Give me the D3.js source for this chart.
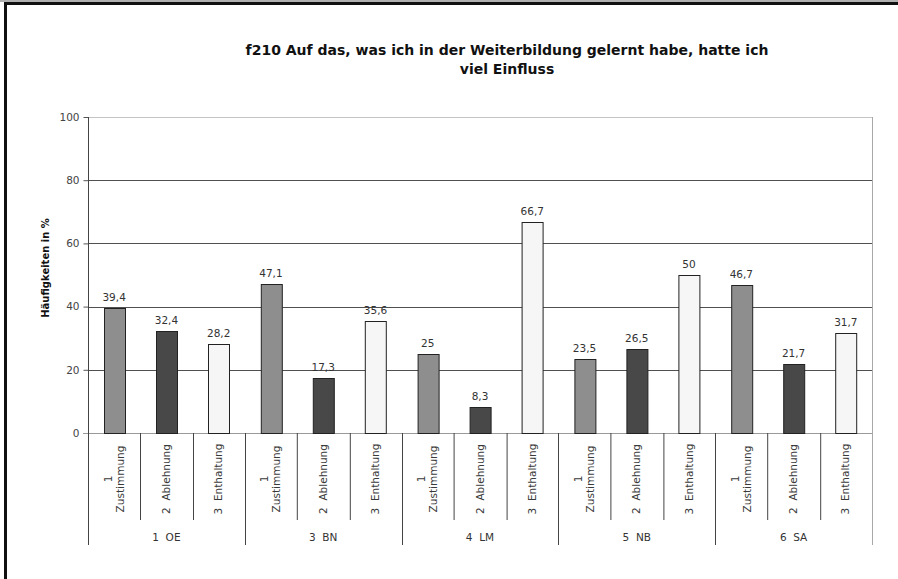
<!DOCTYPE html>
<html>
<head>
<meta charset="utf-8">
<script src="https://cdn.jsdelivr.net/npm/d3@7"></script>
<style>
  html, body { margin: 0; padding: 0; background: #fff; }
  svg { display: block; }
  text { white-space: pre; }
</style>
</head>
<body>
<svg id="chart" width="898" height="579"></svg>
<script>
// Survey item and answer categories
const titleLines = ["f210 Auf das, was ich in der Weiterbildung gelernt habe, hatte ich", "viel Einfluss"];
const yTitle = "Häufigkeiten in %";
const groups = ["1  OE", "3  BN", "4  LM", "5  NB", "6  SA"];
const answers = ["1\nZustimmung", "2  Ablehnung", "3  Enthaltung"];

// Percentages per group, one array per answer
const zustimmung = [39.4, 47.1, 25, 23.5, 46.7];
const ablehnung  = [32.4, 17.3, 8.3, 26.5, 21.7];
const enthaltung = [28.2, 35.6, 66.7, 50, 31.7];
const yTicks = [0, 20, 40, 60, 80, 100];

const series = [zustimmung, ablehnung, enthaltung];
const fills = ["#8e8e8e", "#484848", "#f6f6f6"];

const svg = d3.select("#chart");
const font = "'DejaVu Sans', Verdana, sans-serif";

// outer frame
svg.append("line").attr("x1", 0).attr("x2", 898).attr("y1", 1).attr("y2", 1)
  .attr("stroke", "#b0b0b0").attr("stroke-width", 2);
svg.append("path").attr("d", "M5.5,600 V3.5 H900")
  .attr("fill", "none").attr("stroke", "#111").attr("stroke-width", 3);

const plot = { left: 88, right: 872, top: 117, bottom: 433 };

const y = d3.scaleLinear().domain([0, 100]).range([plot.bottom, plot.top]);
const xGroup = d3.scaleBand().domain(groups).range([plot.left, plot.right]).padding(0);
const xSub = d3.scaleBand().domain(d3.range(answers.length)).range([0, xGroup.bandwidth()]).padding(0);
const barW = xSub.bandwidth() * 0.4;

// title
const title = svg.append("text").attr("x", 507).attr("y", 55)
  .attr("text-anchor", "middle").attr("font-family", font)
  .attr("font-weight", "bold").attr("font-size", 14).attr("fill", "#111");
titleLines.forEach((t, i) => {
  title.append("tspan").attr("x", 507).attr("dy", i === 0 ? 0 : 19).text(t);
});

// gridlines
svg.append("g").selectAll("line").data(yTicks.filter(d => d > 0)).join("line")
  .attr("x1", plot.left).attr("x2", plot.right)
  .attr("y1", d => Math.round(y(d)) + 0.5).attr("y2", d => Math.round(y(d)) + 0.5)
  .attr("stroke", d => d === 100 ? "#c4c4c4" : "#505050").attr("stroke-width", 1);

// right plot edge
svg.append("line").attr("x1", plot.right + 0.5).attr("x2", plot.right + 0.5)
  .attr("y1", plot.top).attr("y2", 545).attr("stroke", "#a8a8a8");

// y axis
const yAxis = d3.axisLeft(y).tickValues(yTicks).tickSize(5).tickPadding(4).tickFormat(d3.format("d"));
const ya = svg.append("g").attr("transform", `translate(${plot.left + 0.5},0)`).call(yAxis);
ya.select(".domain").remove();
ya.selectAll(".tick line").attr("stroke", "#555");
ya.selectAll(".tick text").attr("font-family", font).attr("font-size", 10.5).attr("fill", "#444");

svg.append("text").attr("transform", `translate(49,268) rotate(-90)`)
  .attr("text-anchor", "middle").attr("font-family", font).attr("font-weight", "bold")
  .attr("font-size", 10).attr("fill", "#111").text(yTitle);

// baseline
svg.append("line").attr("x1", plot.left - 5).attr("x2", plot.right)
  .attr("y1", plot.bottom + 0.5).attr("y2", plot.bottom + 0.5).attr("stroke", "#9a9a9a");

// bars and value labels
const g = svg.append("g").selectAll("g").data(groups).join("g")
  .attr("transform", d => `translate(${xGroup(d)},0)`);

series.forEach((vals, si) => {
  g.append("rect")
    .attr("x", () => Math.round(xSub(si) + (xSub.bandwidth() - barW) / 2) + 0.5)
    .attr("y", (d, gi) => Math.round(y(vals[gi])) + 0.5)
    .attr("width", Math.round(barW))
    .attr("height", (d, gi) => Math.round(y(0)) - Math.round(y(vals[gi])))
    .attr("fill", fills[si]).attr("stroke", "#222").attr("stroke-width", 1);
  g.append("text")
    .attr("x", xSub(si) + xSub.bandwidth() / 2)
    .attr("y", (d, gi) => y(vals[gi]) - 7)
    .attr("text-anchor", "middle").attr("font-family", font).attr("font-size", 10.5)
    .attr("fill", "#333")
    .text((d, gi) => String(vals[gi]).replace(".", ","));
});

// category axis: answer separators, answer labels, group separators, group labels
g.each(function (grp, gi) {
  const sel = d3.select(this);
  answers.forEach((lab, si) => {
    if (si > 0) {
      sel.append("line").attr("x1", Math.round(xSub(si)) + 0.5).attr("x2", Math.round(xSub(si)) + 0.5)
        .attr("y1", plot.bottom).attr("y2", 520).attr("stroke", "#444");
    }
    const cx = xSub(si) + xSub.bandwidth() / 2;
    const lines = lab.split("\n");
    const t = sel.append("text").attr("transform", `translate(${cx},479) rotate(-90)`)
      .attr("text-anchor", "middle").attr("font-family", font).attr("font-size", 10.5)
      .attr("fill", "#3a3a3a");
    lines.forEach((ln, li) => {
      t.append("tspan").attr("x", 0)
        .attr("y", (li - (lines.length - 1) / 2) * 12 + 3.5).text(ln);
    });
  });
  sel.append("text").attr("x", xGroup.bandwidth() / 2).attr("y", 541)
    .attr("text-anchor", "middle").attr("font-family", font).attr("font-size", 10.5)
    .attr("fill", "#333").text(grp);
});

svg.append("g").selectAll("line").data(groups.concat(["end"])).join("line")
  .attr("x1", (d, i) => Math.round(i < groups.length ? xGroup(d) : plot.right) + 0.5)
  .attr("x2", (d, i) => Math.round(i < groups.length ? xGroup(d) : plot.right) + 0.5)
  .attr("y1", (d, i) => i === 0 ? plot.top : plot.bottom).attr("y2", 545)
  .attr("stroke", (d, i) => i === groups.length ? "#a8a8a8" : "#444");
</script>
</body>
</html>
